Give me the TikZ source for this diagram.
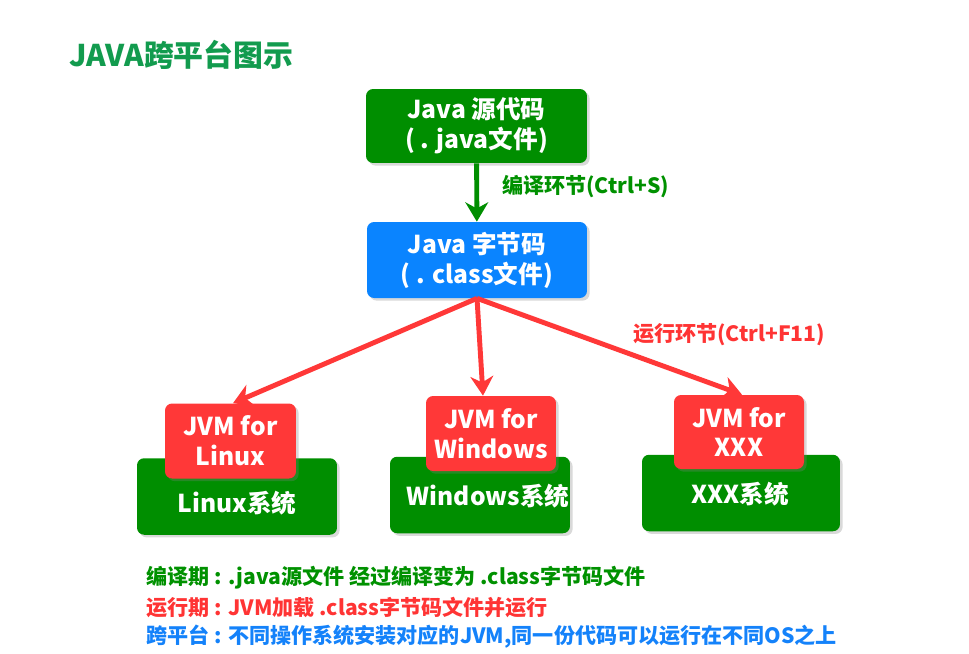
\documentclass[tikz,border=0pt]{standalone}
\usepackage{fontspec}
\setmainfont{Noto Sans CJK SC}
\usetikzlibrary{arrows.meta,shadows}
\definecolor{boxgreen}{RGB}{0,142,0}
\definecolor{boxblue}{RGB}{10,132,255}
\definecolor{jvmred}{RGB}{255,56,56}
\definecolor{titlegreen}{RGB}{18,155,78}
\definecolor{notegreen}{RGB}{0,145,0}
\definecolor{notered}{RGB}{255,52,52}
\definecolor{noteblue}{RGB}{20,130,250}
\tikzset{
  block/.style={rectangle, rounded corners=4pt, inner sep=0pt, align=center, text=white,
    font=\bfseries\fontsize{14}{17}\selectfont,
    drop shadow={shadow xshift=1.5pt, shadow yshift=-1.5pt, opacity=0.3}},
  srcblock/.style={block, fill=boxgreen, minimum width=4.42cm, minimum height=1.48cm},
  bcblock/.style={block, fill=boxblue, minimum width=4.40cm, minimum height=1.52cm},
  osblock/.style={block, fill=boxgreen, minimum height=1.53cm},
  jvmblock/.style={block, fill=jvmred, minimum width=2.6cm, minimum height=1.5cm},
  osname/.style={text=white, font=\bfseries\fontsize{14}{17}\selectfont},
  signal/.style={line width=2.8pt, -{Stealth[length=11pt, width=13pt, inset=3.5pt]}},
  note/.style={font=\bfseries\fontsize{12}{14}\selectfont, anchor=west}
}
\begin{document}
\begin{tikzpicture}[x=0.02cm, y=-0.02cm]
  \useasboundingbox (0,0) rectangle (969,653);
  \node[anchor=west, text=titlegreen, font=\bfseries\fontsize{17}{20}\selectfont] (title) at (63,55) {JAVA跨平台图示};

  \node[srcblock] (src) at (476.5,126) {Java 源代码\\( . java文件)};
  \node[bcblock] (bc) at (477,260) {Java 字节码\\( . class文件)};

  % operating systems with their JVM on top
  \node[osblock, minimum width=4.0cm] (linuxos) at (237,496.5) {};
  \node[osname] (linuxname) at (237,503) {Linux系统};
  \node[jvmblock, minimum width=2.62cm] (linuxjvm) at (230.5,441) {JVM for\\Linux};

  \node[osblock, minimum width=3.6cm] (winos) at (480,495) {};
  \node[osname] (winname) at (488,496) {Windows系统};
  \node[jvmblock] (winjvm) at (491,433.5) {JVM for\\Windows};

  \node[osblock, minimum width=3.96cm] (xxxos) at (741,493) {};
  \node[osname] (xxxname) at (740,494) {XXX系统};
  \node[jvmblock, minimum height=1.48cm] (xxxjvm) at (739,432) {JVM for\\XXX};

  \draw[signal, draw=boxgreen] (src) -- (bc);
  \node[note, text=notegreen] (compile) at (496,187) {编译环节(Ctrl+S)};

  \draw[signal, draw=jvmred] (bc.south) -- ([xshift=0.05cm]linuxjvm.north);
  \draw[signal, draw=jvmred] (bc.south) -- ([xshift=-0.16cm]winjvm.north);
  \draw[signal, draw=jvmred] (bc.south) -- ([xshift=0.06cm]xxxjvm.north);
  \node[note, anchor=center, text=notered] (run) at (729,335) {运行环节(Ctrl+F11)};

  \node[note, text=notegreen] (line1) at (140,578) {编译期 : .java源文件 经过编译变为 .class字节码文件};
  \node[note, text=notered] (line2) at (140,607) {运行期 : JVM加载 .class字节码文件并运行};
  \node[note, text=noteblue] (line3) at (140,637) {跨平台 : 不同操作系统安装对应的JVM,同一份代码可以运行在不同OS之上};
\end{tikzpicture}
\end{document}
